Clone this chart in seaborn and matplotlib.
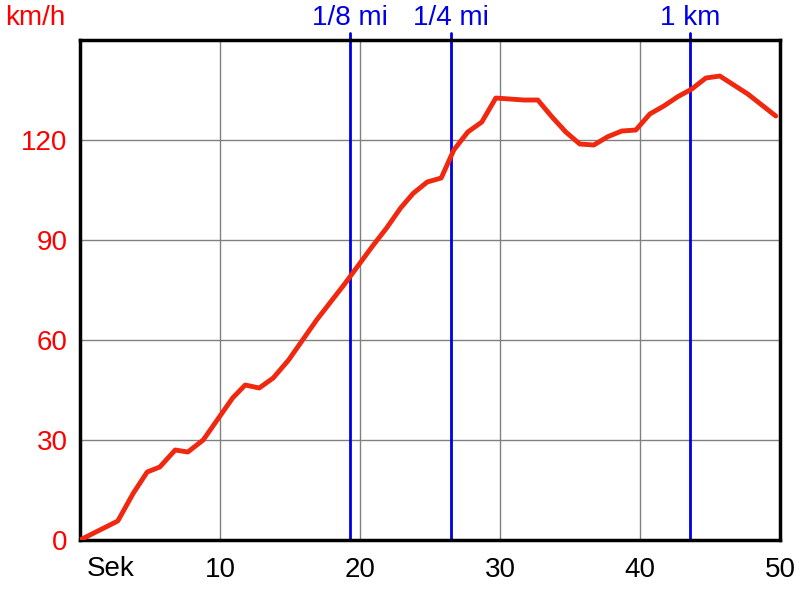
import matplotlib
matplotlib.use('Agg')
import matplotlib.pyplot as plt
import matplotlib.transforms as mtransforms
import pandas as pd
import seaborn as sns

# czas [s] i predkosc [km/h]
czas = [0.0, 2.7, 3.8, 4.8, 5.7, 6.8, 7.7, 8.8, 9.8, 10.9, 11.8, 12.8, 13.8, 14.9,
        15.9, 16.9, 17.9, 18.9, 19.9, 20.9, 21.9, 22.9, 23.8, 24.8, 25.8, 26.7,
        27.7, 28.7, 29.7, 30.7, 31.7, 32.7, 33.7, 34.7, 35.7, 36.7, 37.7, 38.7,
        39.7, 40.7, 41.7, 42.7, 43.7, 44.7, 45.7, 46.7, 47.7, 48.7, 49.7]
predkosc = [0.0, 5.7, 14.0, 20.4, 21.9, 27.0, 26.4, 30.0, 36.0, 42.6, 46.5, 45.6,
            48.6, 54.0, 60.0, 66.0, 71.4, 76.8, 82.5, 88.2, 93.6, 99.6, 104.0,
            107.4, 108.6, 117.0, 122.4, 125.4, 132.6, 132.3, 132.0, 132.0, 127.0,
            122.4, 118.8, 118.5, 121.0, 122.7, 123.0, 127.8, 130.2, 133.0, 135.3,
            138.6, 139.2, 136.5, 133.8, 130.5, 127.2]

# znaczniki dystansu
dystans_etykiety = ['1/8 mi', '1/4 mi', '1 km']
dystans_czas = [19.3, 26.5, 43.6]

x_ticks = [0, 10, 20, 30, 40, 50]
x_labels = ['Sek', '10', '20', '30', '40', '50']
y_ticks = [0, 30, 60, 90, 120]

sns.set_style('white')
plt.rcParams['font.family'] = ['Liberation Sans', 'DejaVu Sans']

df = pd.DataFrame({'czas': czas, 'predkosc': predkosc})

fig = plt.figure(figsize=(8, 6), dpi=100)
ax = fig.add_axes([0.1, 0.1, 0.875, 0.8333])

for x in [10, 20, 30, 40]:
    ax.axvline(x, color='#808080', lw=1, zorder=1)
for y in [30, 60, 90, 120]:
    ax.axhline(y, color='#808080', lw=1, zorder=1)

trans = mtransforms.blended_transform_factory(ax.transData, fig.transFigure)
for lab, t in zip(dystans_etykiety, dystans_czas):
    ax.axvline(t, ymin=0, ymax=1.014, color='#0000e6', lw=2, clip_on=False, zorder=2)
    ax.text(t, 0.97, lab, transform=trans, ha='center', va='center',
            color='#0000e6', fontsize=20)

sns.lineplot(data=df, x='czas', y='predkosc', ax=ax, color='#f02810', lw=3.5, zorder=3)

ax.set_xlim(0, 50)
ax.set_ylim(0, 150)
ax.set_xticks(x_ticks)
# "Sek" rysowane osobno, wyrownane do lewej przy zerze
ax.set_xticklabels([''] + x_labels[1:], fontsize=20, color='black')
ax.annotate(x_labels[0], xy=(x_ticks[0], 0), xycoords=('data', 'axes fraction'),
            xytext=(7, -16), textcoords='offset pixels', ha='left', va='top',
            fontsize=20, color='black', annotation_clip=False)
ax.set_yticks(y_ticks)
ax.set_yticklabels([str(v) for v in y_ticks], fontsize=20, color='#ff0000')
ax.tick_params(axis='both', direction='out', length=5, width=2, color='black', pad=4)
ax.tick_params(axis='x', pad=7)
ax.set_xlabel('')
ax.set_ylabel('')
for s in ax.spines.values():
    s.set_color('black')
    s.set_linewidth(2.5)

fig.text(0.006, 0.97, 'km/h', ha='left', va='center', color='#ff0000', fontsize=20)

plt.savefig('out.png', dpi=100)
plt.close()
